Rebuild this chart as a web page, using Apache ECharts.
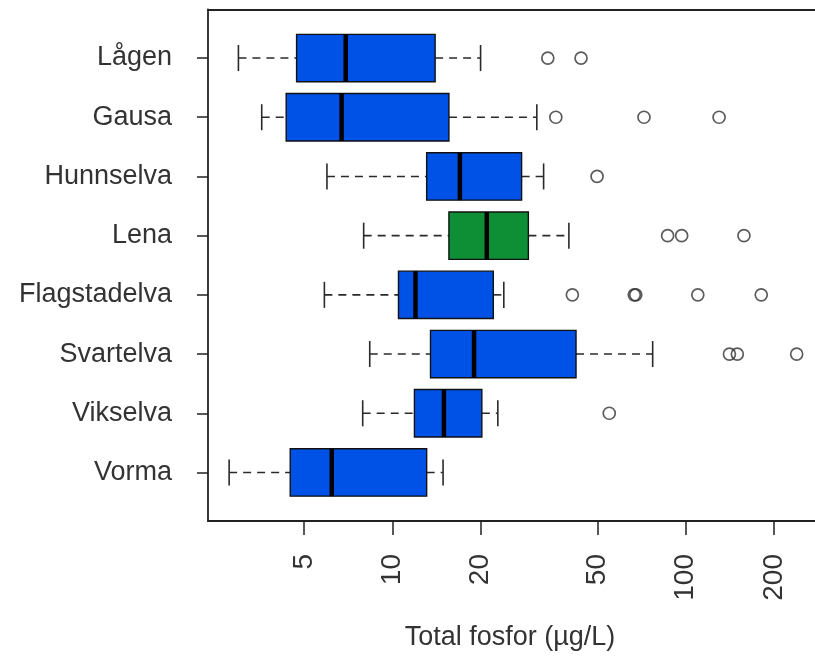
<!DOCTYPE html>
<html>
<head>
<meta charset="utf-8">
<script src="https://cdn.jsdelivr.net/npm/echarts@6/dist/echarts.min.js"></script>
<style>
html,body{margin:0;padding:0;background:#fff;}
#chart{width:815px;height:660px;}
</style>
</head>
<body>
<div id="chart"></div>
<script>
// ---- data (µg/L) ----
const categories = ['Lågen','Gausa','Hunnselva','Lena','Flagstadelva','Svartelva','Vikselva','Vorma'];
const whiskerLow  = [2.99, 3.59, 5.99, 7.99, 5.87, 8.38, 7.93, 2.78];
const q1          = [4.72, 4.35, 13.1, 15.6, 10.5, 13.5, 11.9, 4.49];
const median      = [6.94, 6.72, 17.0, 21.0, 12.0, 19.0, 15.0, 6.22];
const q3          = [14.0, 15.6, 27.6, 29.1, 22.1, 42.3, 20.2, 13.1];
const whiskerHigh = [20.0, 31.1, 32.8, 40.0, 24.0, 77.2, 22.9, 14.9];
const outliers = [
  [33.9, 44.0],
  [36.1, 72.1, 130],
  [49.9],
  [86.8, 96.9, 158],
  [41.1, 66.8, 67.6, 110, 181],
  [141, 150, 239],
  [54.9],
  []
];
const tickValues = [5, 10, 20, 50, 100, 200];
const axisTitle = 'Total fosfor (µg/L)';
const highlighted = 'Lena';

// ---- build ----
const L = Math.log10;
const boxData = categories.map((c, i) => [i + 1, L(whiskerLow[i]), L(q1[i]), L(median[i]), L(q3[i]), L(whiskerHigh[i])]);
const outData = [];
outliers.forEach((arr, i) => arr.forEach(v => outData.push([L(v), i + 1])));

const blue = '#0052e6', green = '#0f8f35';
const font = 'Liberation Sans, Arial, sans-serif';
const xMin = 0.372, xMax = 0.372 + 607 / 293.4;

function renderItem(params, api) {
  const y = api.value(0);
  const pMin = api.coord([api.value(1), y]);
  const pQ1 = api.coord([api.value(2), y]);
  const pMed = api.coord([api.value(3), y]);
  const pQ3 = api.coord([api.value(4), y]);
  const pMax = api.coord([api.value(5), y]);
  const half = Math.abs(api.size([0, 0.4])[1]);
  const cap = Math.abs(api.size([0, 0.22])[1]);
  const cy = pMed[1];
  const fill = categories[params.dataIndex] === highlighted ? green : blue;
  const dash = {stroke: '#2a2a2a', lineWidth: 1.6, lineDash: [8, 6]};
  const solid = {stroke: '#2a2a2a', lineWidth: 1.6};
  return {
    type: 'group',
    children: [
      {type: 'line', shape: {x1: pMin[0], y1: cy, x2: pQ1[0], y2: cy}, style: dash},
      {type: 'line', shape: {x1: pQ3[0], y1: cy, x2: pMax[0], y2: cy}, style: dash},
      {type: 'line', shape: {x1: pMin[0], y1: cy - cap, x2: pMin[0], y2: cy + cap}, style: solid},
      {type: 'line', shape: {x1: pMax[0], y1: cy - cap, x2: pMax[0], y2: cy + cap}, style: solid},
      {type: 'rect', shape: {x: pQ1[0], y: cy - half, width: pQ3[0] - pQ1[0], height: 2 * half},
        style: {fill: fill, stroke: '#111', lineWidth: 1.4}},
      {type: 'line', shape: {x1: pMed[0], y1: cy - half, x2: pMed[0], y2: cy + half},
        style: {stroke: '#000', lineWidth: 4.5}}
    ]
  };
}

const chart = echarts.init(document.getElementById('chart'), null, {renderer: 'canvas'});
chart.setOption({
  animation: false,
  backgroundColor: '#fff',
  grid: {left: 208, top: 9.5, right: 0, bottom: 139, show: false},
  xAxis: [{
    type: 'value', min: xMin, max: xMax,
    axisLine: {show: true, lineStyle: {color: '#222', width: 1.8}},
    splitLine: {show: false},
    axisTick: {show: true, length: 14, customValues: tickValues.map(L), lineStyle: {color: '#222', width: 1.5}},
    axisLabel: {
      customValues: tickValues.map(L), rotate: 90, margin: 33,
      fontSize: 28, color: '#333', fontFamily: font,
      formatter: v => String(Math.round(Math.pow(10, v)))
    },
    name: axisTitle, nameLocation: 'middle', nameGap: 103,
    nameTextStyle: {fontSize: 27, color: '#333', fontFamily: font, padding: [0, 3, 0, 0]}
  }, {
    type: 'value', position: 'top', min: xMin, max: xMax,
    axisLine: {show: true, lineStyle: {color: '#222', width: 1.8}},
    axisTick: {show: false}, axisLabel: {show: false}, splitLine: {show: false}
  }],
  yAxis: {
    type: 'value', inverse: true, min: 0.18, max: 8.82,
    axisLine: {show: true, lineStyle: {color: '#222', width: 1.8}},
    splitLine: {show: false},
    axisTick: {show: true, length: 11, customValues: categories.map((c, i) => i + 1), lineStyle: {color: '#222', width: 1.5}},
    axisLabel: {
      customValues: categories.map((c, i) => i + 1), margin: 36,
      fontSize: 27, color: '#333', fontFamily: font,
      formatter: v => categories[Math.round(v) - 1] || ''
    }
  },
  series: [
    {type: 'custom', renderItem: renderItem, data: boxData, encode: {x: [1, 2, 3, 4, 5], y: 0}, clip: false},
    {type: 'scatter', data: outData, symbol: 'circle', symbolSize: 12,
      itemStyle: {color: 'rgba(255,255,255,0)', borderColor: '#333', borderWidth: 1.7}}
  ]
});
</script>
</body>
</html>
